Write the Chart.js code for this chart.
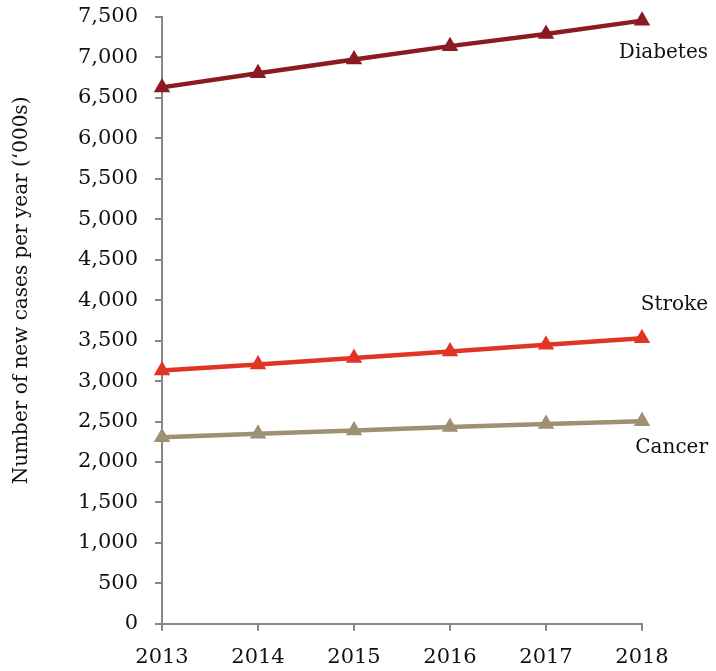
<!DOCTYPE html>
<html>
<head>
<meta charset="utf-8">
<script src="https://cdn.jsdelivr.net/npm/chart.js@4.4.1/dist/chart.umd.min.js"></script>
<style>
  html, body { margin: 0; padding: 0; background: #ffffff; }
  #wrap { width: 716px; height: 671px; position: relative; }
</style>
</head>
<body>
<div id="wrap"><canvas id="chart"></canvas></div>
<script>
// New cases per year, thousands
const years = ['2013', '2014', '2015', '2016', '2017', '2018'];
const diabetes = [6630, 6805, 6975, 7140, 7290, 7455];
const stroke = [3132, 3205, 3285, 3367, 3448, 3528];
const cancer = [2307, 2350, 2390, 2431, 2470, 2505];
const seriesNames = ['Diabetes', 'Stroke', 'Cancer'];
const yTitle = 'Number of new cases per year (‘000s)';

const FONT = '"DejaVu Serif", "Liberation Serif", serif';
const AXIS_GREY = '#868686';
const INK = '#111111';

// Series name written beside the last point of each line
const endLabels = {
  id: 'endLabels',
  afterDatasetsDraw(chart) {
    const ctx = chart.ctx;
    const right = chart.chartArea.right + 66;
    const offsets = [32, -34, 27];
    ctx.save();
    ctx.font = '20px ' + FONT;
    ctx.fillStyle = INK;
    ctx.textAlign = 'right';
    ctx.textBaseline = 'middle';
    chart.data.datasets.forEach((ds, i) => {
      const meta = chart.getDatasetMeta(i);
      const pt = meta.data[meta.data.length - 1];
      ctx.fillText(ds.label, right, pt.y + offsets[i]);
    });
    ctx.restore();
  }
};

// Rotated y-axis title, set a little above the middle of the plot
const yAxisTitle = {
  id: 'yAxisTitle',
  afterDraw(chart) {
    const ctx = chart.ctx;
    const area = chart.chartArea;
    ctx.save();
    ctx.translate(22, (area.top + area.bottom) / 2 - 30);
    ctx.rotate(-Math.PI / 2);
    ctx.font = '20px ' + FONT;
    ctx.fillStyle = INK;
    ctx.textAlign = 'center';
    ctx.textBaseline = 'middle';
    ctx.fillText(yTitle, 0, 0);
    ctx.restore();
  }
};

function series(label, values, color) {
  return {
    label: label,
    data: values,
    borderColor: color,
    backgroundColor: color,
    borderWidth: 4.5,
    pointStyle: 'triangle',
    pointRadius: 5,
    pointHoverRadius: 5,
    tension: 0,
    clip: false
  };
}

new Chart(document.getElementById('chart'), {
  type: 'line',
  data: {
    labels: years,
    datasets: [
      series(seriesNames[0], diabetes, '#8B1A22'),
      series(seriesNames[1], stroke, '#E03524'),
      series(seriesNames[2], cancer, '#9E9072')
    ]
  },
  options: {
    responsive: true,
    maintainAspectRatio: false,
    animation: false,
    layout: { autoPadding: false, padding: { top: 17, right: 74, bottom: 0, left: 0 } },
    plugins: {
      legend: { display: false },
      tooltip: { enabled: false }
    },
    scales: {
      x: {
        type: 'category',
        offset: false,
        afterFit: (scale) => { scale.height -= 13; scale.paddingLeft = 0; scale.paddingRight = 0; },
        grid: {
          drawOnChartArea: false,
          drawTicks: true,
          tickLength: 7,
          color: AXIS_GREY,
          lineWidth: 2
        },
        border: { color: AXIS_GREY, width: 2 },
        ticks: {
          color: INK,
          font: { family: FONT, size: 21 },
          padding: 14,
          maxRotation: 0
        }
      },
      y: {
        min: 0,
        max: 7500,
        afterFit: (scale) => { scale.width = 162; scale.paddingTop = 0; scale.paddingBottom = 0; },
        grid: {
          drawOnChartArea: false,
          drawTicks: true,
          tickLength: 7,
          color: AXIS_GREY,
          lineWidth: 2
        },
        border: { color: AXIS_GREY, width: 2 },
        ticks: {
          stepSize: 500,
          color: INK,
          font: { family: FONT, size: 21 },
          padding: 17,
          callback: (v) => v.toLocaleString('en-US')
        }
      }
    }
  },
  plugins: [endLabels, yAxisTitle]
});
</script>
</body>
</html>
